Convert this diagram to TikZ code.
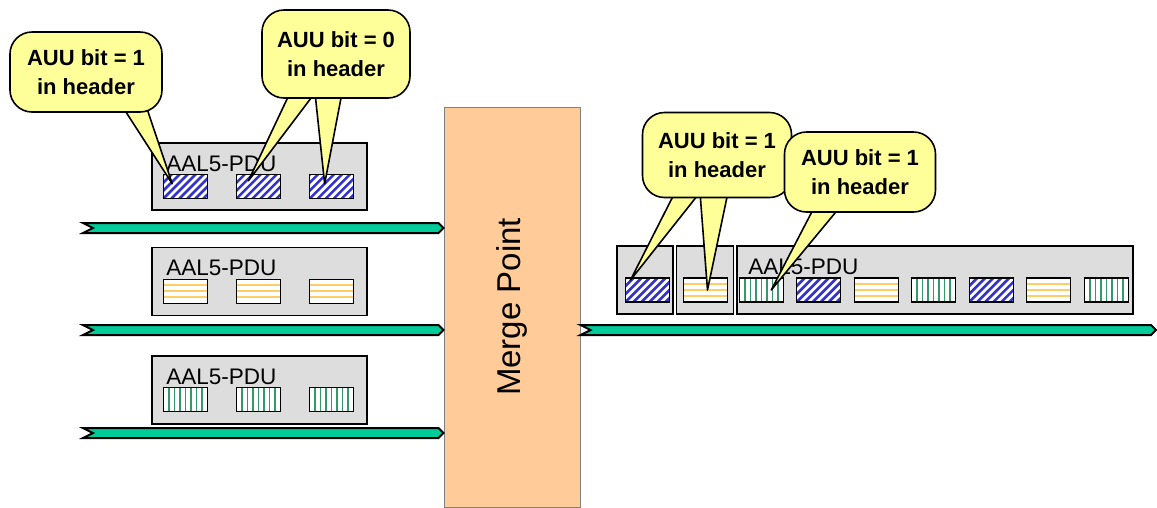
\documentclass[tikz,border=0pt]{standalone}
\usepackage{fontspec}
\setmainfont{Liberation Sans}
\usepackage{graphicx}
\usepackage{tikz}
\usetikzlibrary{positioning}
\definecolor{pipegreen}{HTML}{00CC99}
\definecolor{mergepeach}{HTML}{FFCC99}
\definecolor{pdugray}{HTML}{DDDDDD}
\definecolor{noteyellow}{HTML}{FFFF99}
\definecolor{cellblue}{HTML}{3333CC}
\definecolor{cellorange}{HTML}{FFCC66}
\definecolor{cellgreen}{HTML}{339966}
\pgfdeclarelayer{tails}
\pgfdeclarelayer{bubbles}
\pgfsetlayers{main,tails,bubbles}

\begin{document}
\begin{tikzpicture}[
  x=1pt, y=-1pt,
  pdu/.style={draw, fill=pdugray, line width=1.5pt, minimum height=68pt, inner sep=0pt},
  pdulabel/.style={anchor=base west, inner sep=0pt, font=\fontsize{22.5}{27}\selectfont},
  cell/.style={draw, fill=white, line width=1.2pt, minimum width=44pt, minimum height=24pt, inner sep=0pt},
  bluecell/.style={cell, path picture={
    \foreach \k in {-4,...,6}
      \draw[cellblue, line width=2.5pt] ([xshift=\k*8pt]path picture bounding box.south west) -- ++(30pt,30pt);}},
  orangecell/.style={cell, path picture={
    \foreach \d/\w in {6/1.6pt, 12/1.6pt, 18/2.4pt}
      \draw[cellorange, line width=\w] ([yshift=-\d pt]path picture bounding box.north west) -- ([yshift=-\d pt]path picture bounding box.north east);}},
  greencell/.style={cell, path picture={
    \foreach \k in {1,3,5,7}
      \draw[cellgreen, line width=2.2pt] ([xshift=\k*5.5pt]path picture bounding box.south west) -- ([xshift=\k*5.5pt]path picture bounding box.north west);
    \foreach \k in {2,4,6}
      \draw[cellgreen, line width=1.1pt] ([xshift=\k*5.5pt]path picture bounding box.south west) -- ([xshift=\k*5.5pt]path picture bounding box.north west);}},
  merge/.style={draw=black!50, fill=mergepeach, line width=1pt, minimum width=136pt, minimum height=400pt,
    inner sep=0pt, font=\fontsize{33}{40}\selectfont},
  pipe/.style={draw=black, fill=pipegreen, line width=2pt, line join=miter,
    to path={([yshift=5pt]\tikztostart) -- ([shift={(-5pt,5pt)}]\tikztotarget) -- (\tikztotarget)
      -- ([shift={(-5pt,-5pt)}]\tikztotarget) -- ([yshift=-5pt]\tikztostart) -- ([xshift=10pt]\tikztostart) -- cycle}},
  bubble/.style={draw, fill=noteyellow, line width=1.6pt, rounded corners=22pt, align=center, inner sep=0pt,
    font=\fontsize{22}{29}\selectfont\bfseries},
  tail/.style={draw, fill=noteyellow, line width=1.6pt, line join=round}
]
\useasboundingbox (0,0) rectangle (1157,507);

% merge point
\node[merge] (merge) at (512,307) {\rotatebox{90}{Merge Point}};

% incoming PDUs
\node[pdu, minimum width=215pt, minimum height=67pt] (pdu1) at (259.5,176.5) {};
\node[pdu, minimum width=215pt, below=36pt of pdu1] (pdu2) {};
\node[pdu, minimum width=215pt, below=39pt of pdu2] (pdu3) {};
\node[pdulabel] (l1) at ([shift={(15pt,-29pt)}]pdu1.north west) {AAL5-PDU};
\node[pdulabel] (l2) at ([shift={(15pt,-29pt)}]pdu2.north west) {AAL5-PDU};
\node[pdulabel] (l3) at ([shift={(15pt,-29pt)}]pdu3.north west) {AAL5-PDU};

\node[bluecell] (a1) at ([shift={(34pt,-44.5pt)}]pdu1.north west) {};
\node[bluecell, right=28pt of a1] (a2) {};
\node[bluecell, right=28pt of a2] (a3) {};
\node[orangecell] (b1) at ([shift={(34pt,-44.5pt)}]pdu2.north west) {};
\node[orangecell, right=28pt of b1] (b2) {};
\node[orangecell, right=28pt of b2] (b3) {};
\node[greencell] (g1) at ([shift={(34pt,-44.5pt)}]pdu3.north west) {};
\node[greencell, right=28pt of g1] (g2) {};
\node[greencell, right=28pt of g2] (g3) {};

% merged stream
\node[pdu, minimum width=56pt] (s1) at (645,280) {};
\node[pdu, minimum width=57pt, right=2pt of s1] (s2) {};
\node[pdu, minimum width=396pt, right=2pt of s2] (big) {};
\node[pdulabel] (l4) at ([shift={(12pt,-29pt)}]big.north west) {AAL5-PDU};

\node[bluecell] (r1) at ([shift={(2.5pt,-10pt)}]s1.center) {};
\node[orangecell] (r2) at ([shift={(0.5pt,-10pt)}]s2.center) {};
\node[greencell] (r3) at ([shift={(25pt,-10pt)}]big.west) {};
\node[bluecell, right=12.3pt of r3] (r4) {};
\node[orangecell, right=12.3pt of r4] (r5) {};
\node[greencell, right=12.3pt of r5] (r6) {};
\node[bluecell, right=12.3pt of r6] (r7) {};
\node[orangecell, right=12.3pt of r7] (r8) {};
\node[greencell, right=12.3pt of r8] (r9) {};

% links
\coordinate (in1) at (83,228);
\coordinate (in2) at (83,330);
\coordinate (in3) at (83,433);
\coordinate (out) at (1156,330);
\coordinate (m1) at (merge.west |- in1);
\coordinate (m2) at (merge.west |- in2);
\coordinate (m3) at (merge.west |- in3);
\coordinate (m0) at (merge.east |- out);
\draw[pipe] (in1) to (m1);
\draw[pipe] (in2) to (m2);
\draw[pipe] (in3) to (m3);
\draw[pipe] (m0) to (out);

% callouts
\begin{pgfonlayer}{bubbles}
\node[bubble, minimum width=152pt, minimum height=80pt] (n1) at (86,72) {AUU bit = 1\\in header};
\node[bubble, minimum width=148pt, minimum height=88pt] (n2) at (336,54) {AUU bit = 0\\in header};
\node[bubble, minimum width=149pt, minimum height=85pt] (n3) at (717,155) {AUU bit = 1\\in header};
\node[bubble, minimum width=151pt, minimum height=80pt] (n4) at (860,172) {AUU bit = 1\\in header};
\end{pgfonlayer}
\begin{pgfonlayer}{tails}
\filldraw[tail] ([shift={(34pt,10pt)}]n1.south) -- ([shift={(-13pt,3pt)}]a1.center) -- ([shift={(59pt,10pt)}]n1.south) -- cycle;
\filldraw[tail] ([shift={(-46pt,6pt)}]n2.south) -- ([shift={(-10pt,6pt)}]a2.center) -- ([shift={(-21pt,6pt)}]n2.south) -- cycle;
\filldraw[tail] ([shift={(-21pt,6pt)}]n2.south) -- ([shift={(-7pt,3pt)}]a3.center) -- ([shift={(6pt,6pt)}]n2.south) -- cycle;
\filldraw[tail] ([shift={(-42pt,6pt)}]n3.south) -- ([shift={(-17pt,10pt)}]r1.center) -- ([shift={(-17pt,6pt)}]n3.south) -- cycle;
\filldraw[tail] ([shift={(-17pt,6pt)}]n3.south) -- ([shift={(2pt,0pt)}]r2.center) -- ([shift={(11pt,6pt)}]n3.south) -- cycle;
\filldraw[tail] ([shift={(-45pt,7pt)}]n4.south) -- ([shift={(10pt,0pt)}]r3.center) -- ([shift={(-19pt,7pt)}]n4.south) -- cycle;
\end{pgfonlayer}
\end{tikzpicture}
\end{document}
